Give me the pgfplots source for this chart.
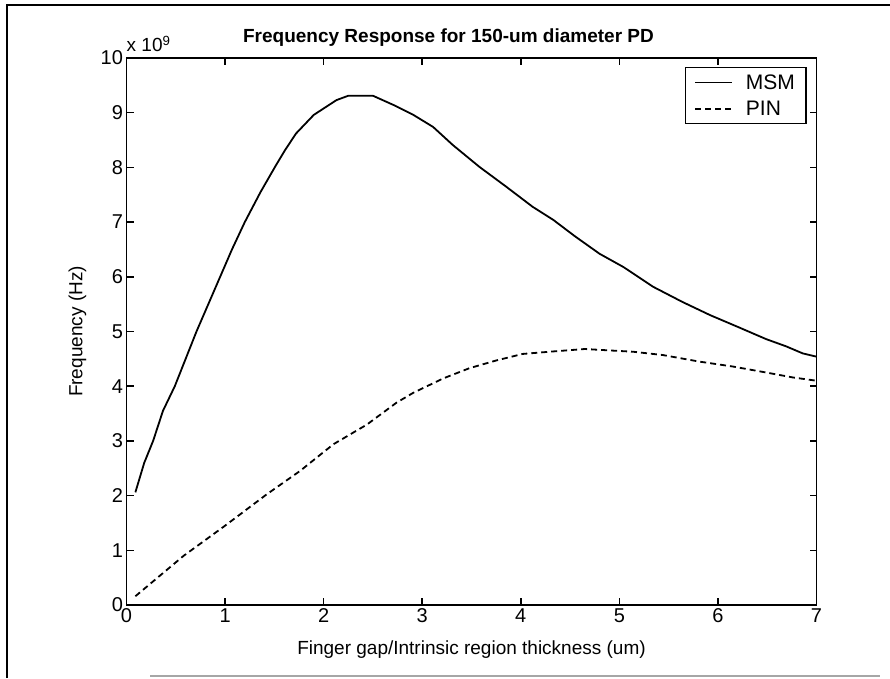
\documentclass[border=0pt]{standalone}
\usepackage{fontspec}
\setmainfont{Liberation Sans}
\usepackage{pgfplots}
\pgfplotsset{compat=1.18}
\begin{document}
\begin{tikzpicture}[x=1pt,y=1pt]
\useasboundingbox (0,0) rectangle (890,678);
\draw[line width=2pt] (7,0) -- (7,673) -- (890,673);
\draw[line width=1.5pt, black!35] (150,2) -- (880,2);
\begin{axis}[
  at={(126.5pt,73pt)}, anchor=south west,
  scale only axis, width=690pt, height=547pt,
  xmin=0, xmax=7, ymin=0, ymax=10,
  xtick={0,1,...,7}, ytick={0,1,...,10},
  tick align=inside, major tick length=7pt,
  axis line style={line width=1.6pt},
  every tick/.style={line width=1.6pt, black},
  font=\fontsize{19}{22}\selectfont,
  /pgf/number format/assume math mode=true,
  ticklabel style={font=\fontsize{20}{22}\selectfont},
  title={\bfseries Frequency Response for 150-um diameter PD},
  title style={at={(axis description cs:0.5,1)}, anchor=center, yshift=14pt, xshift=-23pt, font=\fontsize{19}{22}\selectfont},
  xlabel={Finger gap/Intrinsic region thickness (um)},
  xlabel style={at={(axis description cs:0.5,0)}, anchor=center, yshift=-45pt, font=\fontsize{19}{22}\selectfont},
  ylabel={Frequency (Hz)},
  ylabel style={at={(axis description cs:0,0.5)}, anchor=center, yshift=49pt, font=\fontsize{19}{22}\selectfont},
  legend style={at={(rel axis cs:1,1)}, anchor=north east, xshift=-10pt, yshift=-9pt,
    draw=black, line width=1.2pt, inner xsep=9pt, inner ysep=5pt, row sep=6pt,
    font=\fontsize{21}{23}\selectfont, legend cell align=left,
    /tikz/every odd column/.append style={column sep=11pt}},
  legend image code/.code={\draw[#1, line width=1.6pt] (0pt,0pt) -- (37pt,0pt);},
  clip=false,
]
\addplot[black, line width=1.8pt] coordinates {
(0.09,2.06) (0.18,2.6) (0.27,3.0) (0.37,3.55) (0.49,4.0) (0.60,4.5) (0.71,5.0) (0.83,5.5) (0.95,6.0)
(1.07,6.5) (1.2,7.0) (1.36,7.55) (1.51,8.02) (1.61,8.32) (1.72,8.62) (1.90,8.96) (2.13,9.23) (2.25,9.31)
(2.50,9.31) (2.71,9.14) (2.91,8.96) (3.11,8.74) (3.31,8.41) (3.58,8.01) (3.85,7.65)
(4.12,7.28) (4.33,7.04) (4.55,6.74) (4.80,6.42) (5.04,6.18) (5.34,5.82) (5.64,5.54)
(5.92,5.30) (6.22,5.07) (6.49,4.86) (6.69,4.73) (6.86,4.60) (7.0,4.54)
};
\addlegendentry{MSM}
\addplot[black, line width=1.8pt, dash pattern=on 6pt off 4pt] coordinates {
(0.09,0.16) (0.58,0.9) (1.0,1.45) (1.42,2.02) (1.76,2.45) (2.1,2.94) (2.44,3.30)
(2.74,3.70) (2.91,3.88) (3.21,4.14) (3.48,4.33) (3.75,4.47) (4.02,4.59) (4.36,4.64)
(4.65,4.68) (4.94,4.65) (5.14,4.63) (5.44,4.57) (5.81,4.45) (6.15,4.36) (6.49,4.25)
(6.76,4.16) (7.0,4.10)
};
\addlegendentry{PIN}
\node[anchor=south west, inner sep=0pt, font=\fontsize{19}{22}\selectfont] at (rel axis cs:0,1) [yshift=6pt] {x 10\textsuperscript{9}};
\end{axis}
\end{tikzpicture}
\end{document}
